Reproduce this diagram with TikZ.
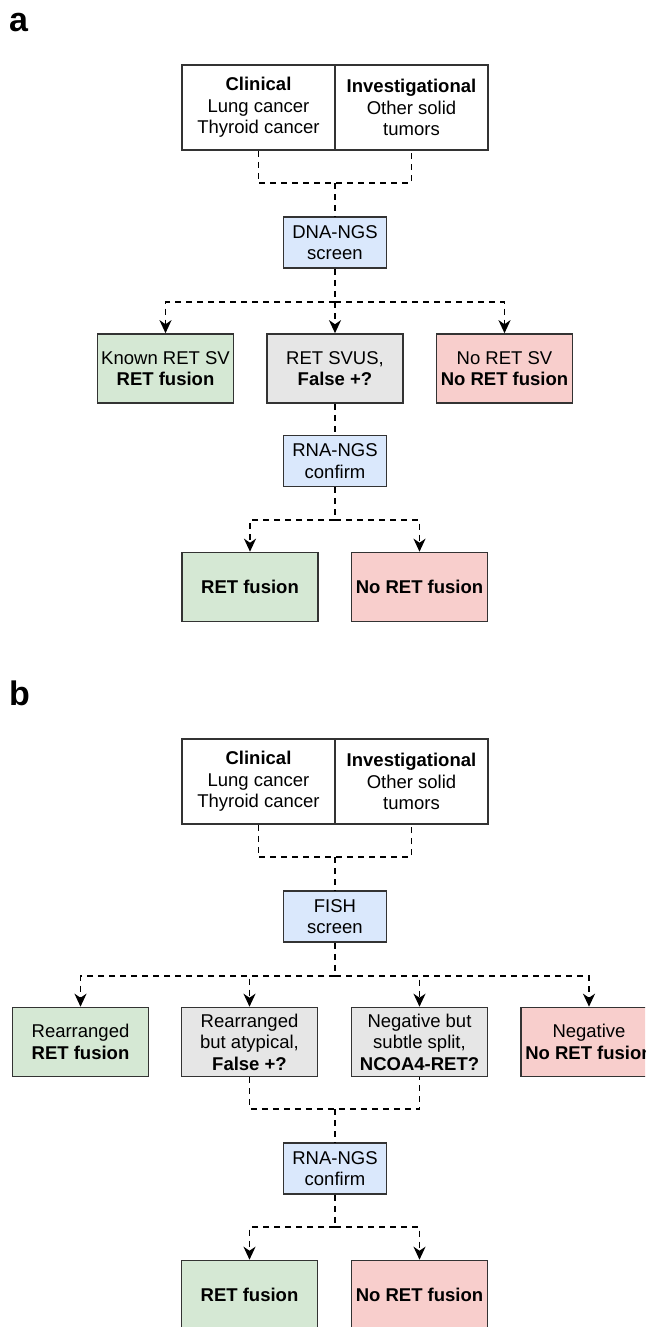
\documentclass[tikz,border=0pt]{standalone}
\usepackage{fontspec}
\setmainfont{Liberation Sans}
\usetikzlibrary{arrows.meta}

\definecolor{boxgreen}{HTML}{D5E8D4}
\definecolor{boxred}{HTML}{F8CECC}
\definecolor{boxgray}{HTML}{E6E6E6}
\definecolor{boxblue}{HTML}{DAE8FC}

\tikzset{
    box/.style={draw=black!80, line width=1.6pt, inner sep=0pt, align=center,
        font=\fontsize{18.5}{21.5}\selectfont},
    headbox/.style={box, minimum width=153pt, minimum height=85pt, fill=white},
    testbox/.style={box, minimum width=103pt, minimum height=51pt, fill=boxblue},
    resbox/.style={box, minimum width=136pt, minimum height=69pt},
    dline/.style={line width=1.7pt, dash pattern=on 6pt off 5pt},
    darr/.style={dline, -{Stealth[length=13pt, width=12pt, inset=4pt]}},
    panel/.style={font=\fontsize{34}{34}\selectfont\bfseries, anchor=base west, inner sep=0pt}
}

\begin{document}
\begin{tikzpicture}[x=1pt, y=-1pt]
    \useasboundingbox (0,0) rectangle (645,1327);
    \fill[white] (0,0) rectangle (645,1327);
    \clip (0,0) rectangle (645,1327);

    % panel a
    \node[panel] (labA) at (9,32) {a};
    \node[headbox] (clinA) at (258.5,107.5) {\textbf{Clinical}\\Lung cancer\\Thyroid cancer};
    \node[headbox] (invA) at (411.5,107.5) {\textbf{Investigational}\\Other solid\\tumors};
    \node[testbox] (dnaA) at (335,242.5) {DNA-NGS\\screen};
    \node[resbox, fill=boxgreen] (knownA) at (165.5,368.5) {Known RET SV\\\textbf{RET fusion}};
    \node[resbox, fill=boxgray] (svusA) at (335,368.5) {RET SVUS,\\\textbf{False +?}};
    \node[resbox, fill=boxred] (noA) at (504.5,368.5) {No RET SV\\\textbf{No RET fusion}};
    \node[testbox] (rnaA) at (335,461) {RNA-NGS\\confirm};
    \node[resbox, fill=boxgreen] (posA) at (250,587) {\textbf{RET fusion}};
    \node[resbox, fill=boxred] (negA) at (419.5,587) {\textbf{No RET fusion}};

    \coordinate (joinA) at (335,183);
    \coordinate (splitA) at (335,302);
    \coordinate (confA) at (335,520);
    \draw[dline] (clinA.south) |- (joinA) -| (invA.south);
    \draw[dline] (joinA) -- (dnaA);
    \draw[dline] (dnaA) -- (splitA);
    \draw[darr] (splitA) -| (knownA);
    \draw[darr] (splitA) -- (svusA);
    \draw[darr] (splitA) -| (noA);
    \draw[dline] (svusA) -- (rnaA);
    \draw[dline] (rnaA) -- (confA);
    \draw[darr] (confA) -| (posA);
    \draw[darr] (confA) -| (negA);

    % panel b
    \node[panel] (labB) at (9,705) {b};
    \node[headbox] (clinB) at (258.5,781.5) {\textbf{Clinical}\\Lung cancer\\Thyroid cancer};
    \node[headbox] (invB) at (411.5,781.5) {\textbf{Investigational}\\Other solid\\tumors};
    \node[testbox] (fishB) at (335,916.5) {FISH\\screen};
    \node[resbox, fill=boxgreen] (rearrB) at (80.5,1042) {Rearranged\\\textbf{RET fusion}};
    \node[resbox, fill=boxgray] (atypB) at (249.5,1042) {Rearranged\\but atypical,\\\textbf{False +?}};
    \node[resbox, fill=boxgray] (subtleB) at (419.5,1042) {Negative but\\subtle split,\\\textbf{NCOA4-RET?}};
    \node[resbox, fill=boxred] (negfishB) at (589,1042) {Negative\\\textbf{No RET fusion}};
    \node[testbox] (rnaB) at (335,1168.5) {RNA-NGS\\confirm};
    \node[resbox, fill=boxgreen] (posB) at (249.5,1295) {\textbf{RET fusion}};
    \node[resbox, fill=boxred] (negB) at (419.5,1295) {\textbf{No RET fusion}};

    \coordinate (joinB) at (335,857);
    \coordinate (splitB) at (335,976);
    \coordinate (mergeB) at (335,1109);
    \coordinate (confB) at (335,1227);
    \draw[dline] (clinB.south) |- (joinB) -| (invB.south);
    \draw[dline] (joinB) -- (fishB);
    \draw[dline] (fishB) -- (splitB);
    \draw[darr] (splitB) -| (rearrB);
    \draw[darr] (splitB) -| (atypB);
    \draw[darr] (splitB) -| (subtleB);
    \draw[darr] (splitB) -| (negfishB);
    \draw[dline] (atypB.south) |- (mergeB) -| (subtleB.south);
    \draw[dline] (mergeB) -- (rnaB);
    \draw[dline] (rnaB) -- (confB);
    \draw[darr] (confB) -| (posB);
    \draw[darr] (confB) -| (negB);
\end{tikzpicture}
\end{document}
